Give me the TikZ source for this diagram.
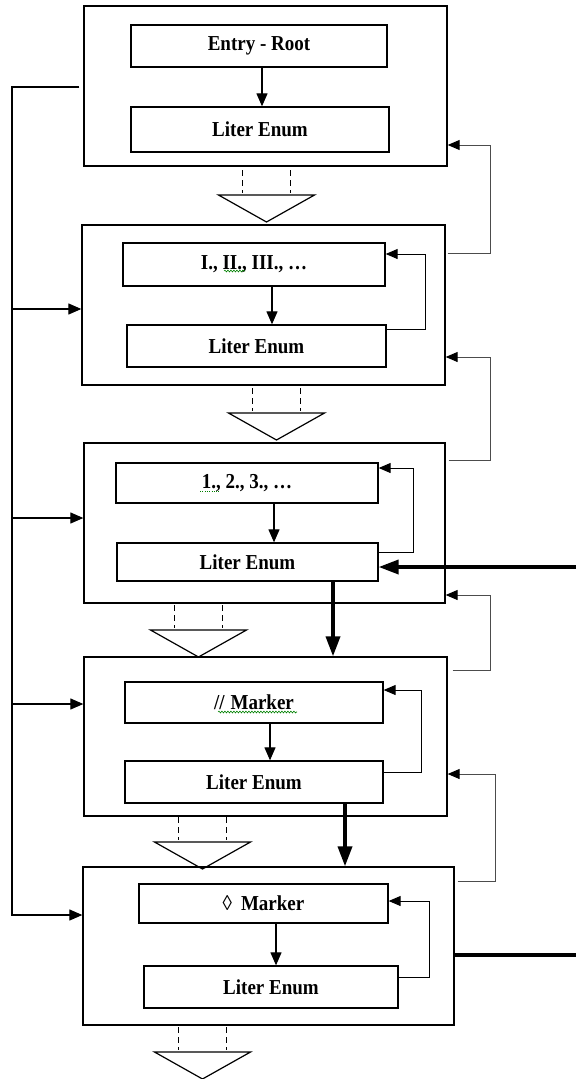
\documentclass[tikz,border=0pt]{standalone}
\usepackage{graphicx}
\usepackage{fontspec}
\setmainfont{Liberation Serif}
\usetikzlibrary{arrows.meta,decorations.pathmorphing}

% funnel symbol below a block: #1 centre x, #2 top of the dashed guides
\newcommand\drawfunnel[2]{%
  \draw[guide] (#1-24,#2) -- ++(0,23);
  \draw[guide] (#1+24,#2) -- ++(0,23);
  \draw[funnel] (#1-48,#2+25) -- (#1+48,#2+25) -- (#1,#2+52) -- cycle;}
% box labels are set slightly tall
\newcommand\lbl[1]{\scalebox{1}[1.12]{#1}}

\begin{document}
\begin{tikzpicture}[x=1pt,y=-1pt,
  outerbox/.style={draw, line width=1.3pt, inner sep=0pt},
  innerbox/.style={draw, line width=1.3pt, inner sep=0pt,
    font=\fontsize{19}{22}\selectfont\bfseries},
  arr/.style={line width=1.2pt, -{Triangle[length=13pt,width=11pt]}},
  looparr/.style={line width=1pt, -{Triangle[length=12pt,width=10pt]}},
  fb/.style={line width=1pt, draw=black!70,
    -{Triangle[length=12pt,width=10pt,color=black]}},
  heavy/.style={line width=3.6pt, -{Triangle[length=20pt,width=14pt]}},
  guide/.style={line width=1.3pt, dash pattern=on 6pt off 4pt},
  funnel/.style={draw, line width=1.2pt, fill=white},
  squig/.style={draw=green!50!black, line width=0.6pt,
    decorate, decoration={snake, amplitude=0.9pt, segment length=3pt}},
  dots/.style={draw=green!50!black, line width=0.8pt, dash pattern=on 0.8pt off 1.5pt}]
\useasboundingbox (0,0) rectangle (576,1079);

% ---- level 1
\node[outerbox, minimum width=363, minimum height=160] (B1) at (265.5,86) {};
\node[innerbox, minimum width=256, minimum height=42] (B1a) at (259,46) {\lbl{Entry - Root}};
\node[innerbox, minimum width=258, minimum height=45] (B1b) at (260,129.5) {\lbl{Liter Enum}};
\draw[arr] (B1a.south -| 262,0) -- (B1b.north -| 262,0);
\drawfunnel{266.5}{170}

% ---- level 2
\node[outerbox, minimum width=363, minimum height=160] (B2) at (263.5,305) {};
\node[innerbox, minimum width=262, minimum height=43] (B2a) at (254,264.5) {\lbl{I., II., III., …}};
\node[innerbox, minimum width=259, minimum height=42] (B2b) at (256.5,346) {\lbl{Liter Enum}};
\draw[squig] (224,271) -- (245,271);
\draw[arr] (B2a.south -| 272,0) -- (B2b.north -| 272,0);
\draw[looparr] (B2b.east |- 0,329) -| (425,254) -- (B2a.east |- 0,254);
\drawfunnel{276.5}{388}

% ---- level 3
\node[outerbox, minimum width=361, minimum height=160] (B3) at (264.5,523) {};
\node[innerbox, minimum width=262, minimum height=40] (B3a) at (247,483) {\lbl{1., 2., 3., …}};
\node[innerbox, minimum width=261, minimum height=38] (B3b) at (247.5,562) {\lbl{Liter Enum}};
\draw[dots] (200,491) -- (220,491);
\draw[arr] (B3a.south -| 274,0) -- (B3b.north -| 274,0);
\draw[looparr] (B3b.east |- 0,552) -| (413,468) -- (B3a.east |- 0,468);
\drawfunnel{198.5}{605}

% ---- level 4
\node[outerbox, minimum width=363, minimum height=159] (B4) at (265.5,736.5) {};
\node[innerbox, minimum width=258, minimum height=41] (B4a) at (254,702.5) {\lbl{//\hspace{6pt}Marker}};
\node[innerbox, minimum width=258, minimum height=42] (B4b) at (254,782) {\lbl{Liter Enum}};
\draw[squig] (218,712) -- (297,712);
\draw[arr] (B4a.south -| 270,0) -- (B4b.north -| 270,0);
\draw[looparr] (B4b.east |- 0,772) -| (421,690) -- (B4a.east |- 0,690);
\drawfunnel{202.5}{817}

% ---- level 5
\node[outerbox, minimum width=371, minimum height=158] (B5) at (268.5,946) {};
\node[innerbox, minimum width=249, minimum height=39] (B5a) at (263.5,903.5) {\lbl{◊\hspace{9pt}Marker}};
\node[innerbox, minimum width=254, minimum height=42] (B5b) at (271,987) {\lbl{Liter Enum}};
\draw[arr] (B5a.south -| 276,0) -- (B5b.north -| 276,0);
\draw[looparr] (B5b.east |- 0,977) -| (429,901) -- (B5a.east |- 0,901);
\drawfunnel{202.5}{1027}

% ---- left trunk feeding every level from the first
\coordinate (T0) at (12,87);
\coordinate (T2) at (12,309);
\coordinate (T3) at (12,518);
\coordinate (T4) at (12,704);
\draw[arr] ([xshift=-4pt]B1.west |- 0,87) -- (T0) |- (B5.west |- 0,915);
\draw[arr] (T2) -- (B2.west |- T2);
\draw[arr] (T3) -- (B3.west |- T3);
\draw[arr] (T4) -- (B4.west |- T4);

% ---- right-hand returns to the previous level
\draw[fb] ([xshift=2pt]B2.east |- 0,253) -| (490,145) -- (B1.east |- 0,145);
\draw[fb] ([xshift=3pt]B3.east |- 0,460) -| (490,357) -- (B2.east |- 0,357);
\draw[fb] ([xshift=5pt]B4.east |- 0,670) -| (490,595) -- (B3.east |- 0,595);
\draw[fb] ([xshift=3pt]B5.east |- 0,881) -| (495,774) -- (B4.east |- 0,774);

% ---- heavy flow
\coordinate (Rin) at (576,567);
\coordinate (Rout) at (576,955);
\draw[heavy] (Rin) -- (B3b.east |- Rin);
\draw[heavy] (B3b.south -| 333,0) -- (B4.north -| 333,0);
\draw[heavy] (B4b.south -| 345,0) -- (B5.north -| 345,0);
\draw[line width=3.6pt] (B5.east |- Rout) -- (Rout);
\end{tikzpicture}
\end{document}
